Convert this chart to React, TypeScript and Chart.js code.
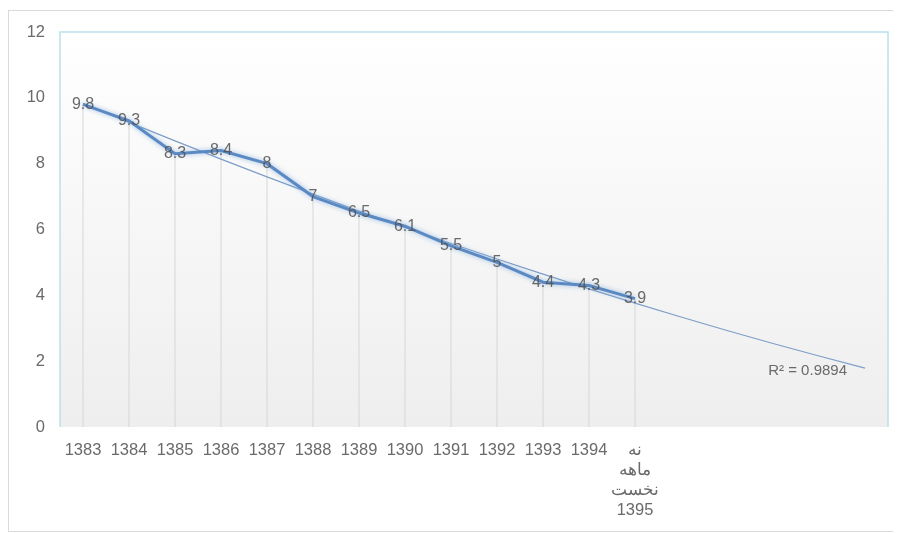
import { useEffect, useRef } from 'react';
import { Chart, registerables } from 'chart.js';

Chart.register(...registerables);

const categories: (string | string[])[] = [
  '1383', '1384', '1385', '1386', '1387', '1388', '1389', '1390', '1391', '1392', '1393', '1394',
  ['نه', 'ماهه', 'نخست', '1395'],
];
const values = [9.8, 9.3, 8.3, 8.4, 8, 7, 6.5, 6.1, 5.5, 5, 4.4, 4.3, 3.9];
const yTicks = [0, 2, 4, 6, 8, 10, 12];
const forecastPeriods = 5;
const r2Label = 'R² = 0.9894';

// Least-squares polynomial (order 2) trendline, x = 1..n, like a spreadsheet trendline
function polyFit2(ys: number[]): [number, number, number] {
  const S = [0, 0, 0, 0, 0];
  const T = [0, 0, 0];
  ys.forEach((y, i) => {
    const x = i + 1;
    for (let k = 0; k < 5; k++) S[k] += Math.pow(x, k);
    for (let k = 0; k < 3; k++) T[k] += y * Math.pow(x, k);
  });
  const M = [
    [S[0], S[1], S[2]],
    [S[1], S[2], S[3]],
    [S[2], S[3], S[4]],
  ];
  const det = (m: number[][]) =>
    m[0][0] * (m[1][1] * m[2][2] - m[1][2] * m[2][1]) -
    m[0][1] * (m[1][0] * m[2][2] - m[1][2] * m[2][0]) +
    m[0][2] * (m[1][0] * m[2][1] - m[1][1] * m[2][0]);
  const D = det(M);
  const res: number[] = [];
  for (let c = 0; c < 3; c++) {
    const Mc = M.map((row, r) => row.map((v, j) => (j === c ? T[r] : v)));
    res.push(det(Mc) / D);
  }
  return [res[0], res[1], res[2]];
}

const FONT = "'Liberation Sans', Arial, sans-serif";

export default function App() {
  const canvasRef = useRef<HTMLCanvasElement | null>(null);

  useEffect(() => {
    if (!canvasRef.current) return;
    const labels: (string | string[])[] = [...categories];
    for (let i = 0; i < forecastPeriods; i++) labels.push('');
    const [a, b, c] = polyFit2(values);
    const trend = labels.map((_, i) => {
      const x = i + 1;
      return a + b * x + c * x * x;
    });

    const bgPlugin = {
      id: 'plotBg',
      beforeDraw(chart: any) {
        const { ctx, chartArea } = chart;
        const { left, top, right, bottom } = chartArea;
        ctx.save();
        const g = ctx.createLinearGradient(0, top, 0, bottom);
        g.addColorStop(0, '#ffffff');
        g.addColorStop(1, '#eeeeee');
        ctx.fillStyle = g;
        ctx.fillRect(left, top, right - left, bottom - top);
        ctx.strokeStyle = '#b6e2ea';
        ctx.lineWidth = 1.5;
        ctx.beginPath();
        ctx.moveTo(left, bottom);
        ctx.lineTo(left, top);
        ctx.lineTo(right, top);
        ctx.lineTo(right, bottom);
        ctx.stroke();
        ctx.restore();
      },
      beforeDatasetDraw(chart: any, args: any) {
        if (args.index === 2) {
          chart.ctx.save();
          chart.ctx.shadowColor = 'rgba(110,160,215,0.7)';
          chart.ctx.shadowBlur = 5;
        }
      },
      afterDatasetDraw(chart: any, args: any) {
        if (args.index === 2) chart.ctx.restore();
      },
      afterDatasetsDraw(chart: any) {
        const { ctx } = chart;
        const meta = chart.getDatasetMeta(2);
        ctx.save();
        ctx.font = `16px ${FONT}`;
        ctx.fillStyle = 'rgba(80,80,80,0.85)';
        ctx.textAlign = 'center';
        ctx.textBaseline = 'middle';
        meta.data.forEach((p: any, i: number) => {
          ctx.fillText(String(values[i]), p.x, p.y);
        });
        const tmeta = chart.getDatasetMeta(1);
        const last = tmeta.data[tmeta.data.length - 1];
        ctx.font = `15px ${FONT}`;
        ctx.fillStyle = '#6a6a6a';
        ctx.textAlign = 'right';
        ctx.fillText(r2Label, last.x - 18, last.y + 3);
        ctx.restore();
      },
    };

    const chart = new Chart(canvasRef.current, {
      type: 'bar',
      data: {
        labels,
        datasets: [
          {
            type: 'bar',
            data: values,
            backgroundColor: 'rgba(215,215,215,0.6)',
            barThickness: 1,
            order: 3,
          } as any,
          {
            type: 'line',
            data: trend,
            borderColor: '#7d9ec8',
            borderWidth: 1.2,
            pointRadius: 0,
            tension: 0,
            order: 2,
          } as any,
          {
            type: 'line',
            data: values,
            borderColor: '#5a89c4',
            borderWidth: 3,
            pointRadius: 0,
            tension: 0,
            order: 1,
          } as any,
        ],
      },
      options: {
        responsive: true,
        maintainAspectRatio: false,
        animation: false,
        layout: { padding: { top: 21, right: 12, bottom: 0, left: 0 } },
        plugins: {
          legend: { display: false },
          tooltip: { enabled: false },
        },
        scales: {
          x: {
            offset: true,
            grid: { display: false, drawTicks: false },
            border: { display: false },
            ticks: {
              color: '#6a6a6a',
              font: { family: FONT, size: 16.5, lineHeight: 1.2 },
              padding: 14,
              maxRotation: 0,
              autoSkip: false,
            },
            afterFit: (s: any) => {
              s.height = 104;
              s.paddingLeft = 0;
              s.paddingRight = 0;
            },
          },
          y: {
            min: 0,
            max: 12,
            grid: { display: false, drawTicks: false },
            border: { display: false },
            ticks: {
              color: '#6a6a6a',
              font: { family: FONT, size: 16.5 },
              padding: 15,
            },
            afterBuildTicks: (s: any) => {
              s.ticks = yTicks.map((v) => ({ value: v }));
            },
            afterFit: (s: any) => {
              s.width = 51;
              s.paddingTop = 0;
              s.paddingBottom = 0;
            },
          },
        },
      },
      plugins: [bgPlugin],
    });
    return () => chart.destroy();
  }, []);

  return (
    <div
      style={{
        width: 893,
        height: 522,
        marginTop: 2,
        boxSizing: 'border-box',
        border: '1px solid #d9d9d9',
        background: '#ffffff',
        position: 'relative',
      }}
    >
      <canvas ref={canvasRef} />
    </div>
  );
}
